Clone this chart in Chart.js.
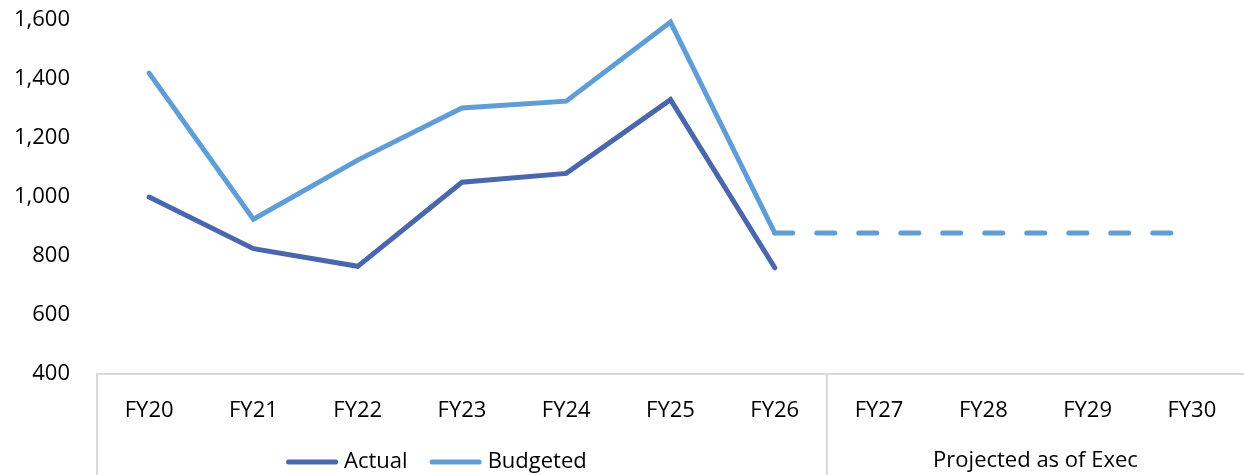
<!DOCTYPE html>
<html>
<head>
<meta charset="utf-8">
<script src="https://cdn.jsdelivr.net/npm/chart.js@4.4.1/dist/chart.umd.min.js"></script>
<style>
  body { margin: 0; background: #fff; }
  #wrap { width: 1244px; height: 475px; }
</style>
</head>
<body>
<div id="wrap"><canvas id="myChart" width="1244" height="475"></canvas></div>
<script>
const categories = ['FY20', 'FY21', 'FY22', 'FY23', 'FY24', 'FY25', 'FY26', 'FY27', 'FY28', 'FY29', 'FY30'];
const actual = [1000, 825, 765, 1050, 1080, 1330, 760, null, null, null, null];
const budgeted = [1420, 925, 1125, 1302, 1325, 1593, 878, null, null, null, null];
const projected = [null, null, null, null, null, null, 878, 878, 878, 878, 878];
const yMin = 400;
const yMax = 1600;
const yStep = 200;
const groupLabel = 'Projected as of Exec';
const groupStart = 7; // first category under the group label

const FONT = '"Open Sans", sans-serif';
const darkBlue = '#4a66ac';
const lightBlue = '#5e9dd5';
const boxGrey = '#d9d9d9';

const boxPlugin = {
    id: 'boxPlugin',
    afterDraw(chart) {
        const ctx = chart.ctx;
        const area = chart.chartArea;
        const x = chart.scales.x;
        const half = (x.getPixelForValue(1) - x.getPixelForValue(0)) / 2;
        const sepX = x.getPixelForValue(groupStart) - half;

        ctx.save();
        ctx.strokeStyle = boxGrey;
        ctx.lineWidth = 2;
        ctx.beginPath();
        ctx.moveTo(area.left, area.bottom);
        ctx.lineTo(area.left, chart.height);
        ctx.moveTo(sepX, area.bottom);
        ctx.lineTo(sepX, chart.height);
        ctx.stroke();

        ctx.font = '22px ' + FONT;
        ctx.fillStyle = '#000';
        ctx.textBaseline = 'middle';
        ctx.textAlign = 'center';
        ctx.fillText(groupLabel, (sepX + area.right) / 2, 461);

        // legend for the first two series
        const items = chart.data.datasets.slice(0, 2);
        const markW = 52, markGap = 6, itemGap = 22;
        let total = 0;
        items.forEach((d, i) => {
            total += markW + markGap + ctx.measureText(d.label).width;
            if (i > 0) total += itemGap;
        });
        let lx = area.left + (sepX - area.left) * 0.465 - total / 2;
        const ly = 462;
        ctx.textAlign = 'left';
        items.forEach(d => {
            ctx.strokeStyle = d.borderColor;
            ctx.lineWidth = 5;
            ctx.lineCap = 'round';
            ctx.beginPath();
            ctx.moveTo(lx + 2.5, ly);
            ctx.lineTo(lx + markW - 2.5, ly);
            ctx.stroke();
            lx += markW + markGap;
            ctx.fillText(d.label, lx, ly);
            lx += ctx.measureText(d.label).width + itemGap;
        });
        ctx.restore();
    }
};

const ctx = document.getElementById('myChart').getContext('2d');
const myChart = new Chart(ctx, {
    type: 'line',
    data: {
        labels: categories,
        datasets: [{
            label: 'Actual',
            data: actual,
            borderColor: darkBlue,
            backgroundColor: darkBlue,
            borderWidth: 5,
            borderCapStyle: 'round',
            pointRadius: 0,
            tension: 0
        }, {
            label: 'Budgeted',
            data: budgeted,
            borderColor: lightBlue,
            backgroundColor: lightBlue,
            borderWidth: 5,
            borderCapStyle: 'round',
            pointRadius: 0,
            tension: 0
        }, {
            label: 'Projected',
            data: projected,
            borderColor: lightBlue,
            backgroundColor: lightBlue,
            borderWidth: 5,
            borderCapStyle: 'round',
            borderDash: [18, 24],
            pointRadius: 0,
            tension: 0
        }]
    },
    options: {
        responsive: false,
        animation: false,
        clip: false,
        layout: { autoPadding: false, padding: { top: 20, right: 0, left: 0, bottom: 0 } },
        plugins: {
            legend: { display: false },
            tooltip: { enabled: false }
        },
        scales: {
            x: {
                offset: true,
                grid: { display: false },
                border: { display: true, color: boxGrey, width: 2 },
                ticks: {
                    color: '#000',
                    font: { family: FONT, size: 22 },
                    padding: 16,
                    maxRotation: 0,
                    autoSkip: false
                },
                afterFit(scale) {
                    scale.height = 101;
                    scale.paddingLeft = 0;
                    scale.paddingRight = 0;
                }
            },
            y: {
                min: yMin,
                max: yMax,
                grid: { display: false },
                border: { display: false },
                ticks: {
                    stepSize: yStep,
                    color: '#000',
                    font: { family: FONT, size: 22 },
                    padding: 19,
                    callback: v => v.toLocaleString('en-US')
                },
                afterFit(scale) {
                    scale.width = 97;
                    scale.paddingTop = 0;
                    scale.paddingBottom = 0;
                }
            }
        }
    },
    plugins: [boxPlugin]
});
</script>
</body>
</html>
